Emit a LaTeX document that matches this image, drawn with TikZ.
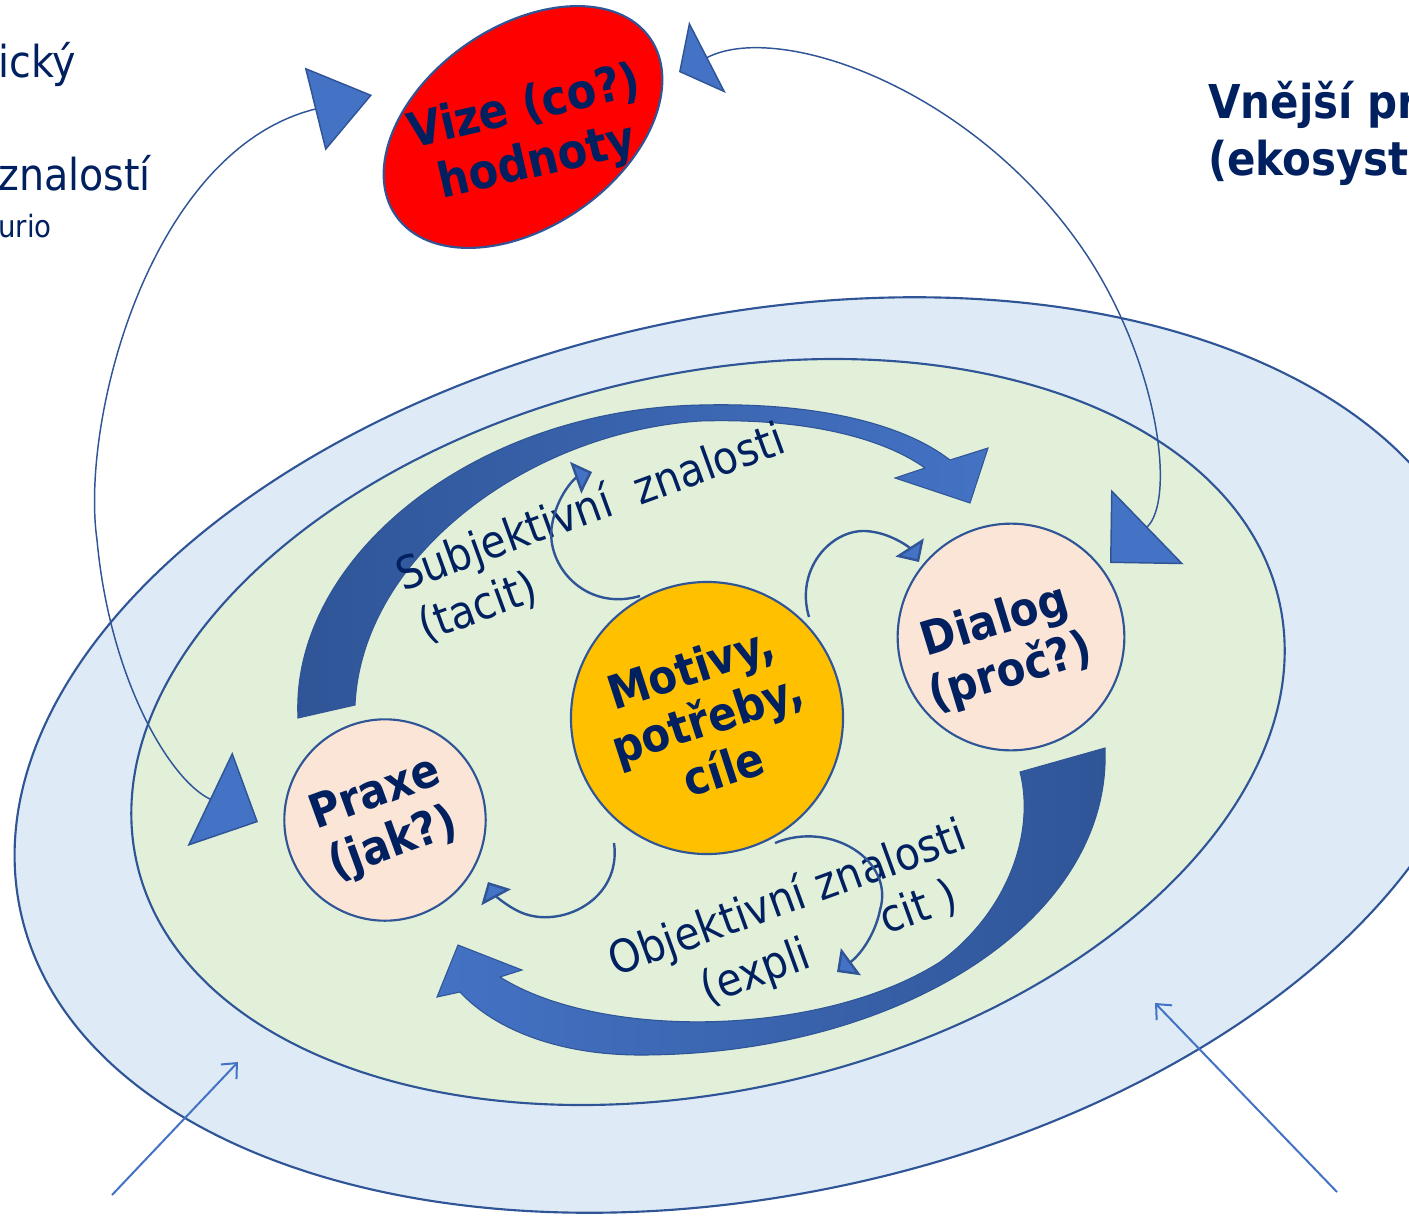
\documentclass[tikz,border=0pt]{standalone}
\usepackage{fontspec}
\setmainfont{DejaVu Sans Condensed}
\usetikzlibrary{arrows.meta}
\definecolor{navy}{HTML}{002060}
\definecolor{edgeblue}{HTML}{2F5597}
\definecolor{midblue}{HTML}{4472C4}
\definecolor{outerfill}{HTML}{DEEBF7}
\definecolor{innerfill}{HTML}{E2F0D9}
\definecolor{peach}{HTML}{FBE5D6}
\definecolor{gold}{HTML}{FFC000}
\definecolor{vizered}{HTML}{FF0000}
\newcommand{\lblfont}{\fontsize{35}{40}\selectfont\bfseries}
\newcommand{\knowfont}{\fontsize{34}{40}\selectfont}

\begin{document}
\begin{tikzpicture}[x=0.75pt,y=0.75pt,yscale=-1,
  ring/.style={draw=edgeblue,line width=1.6pt},
  boldtext/.style={text=navy,font=\lblfont,align=center,inner sep=0pt},
  bubble/.style={circle,ring,fill=peach,boldtext},
  knowtext/.style={text=navy,font=\knowfont,inner sep=0pt,anchor=base west,rotate=20},
  blockarrow/.style={draw=edgeblue,line width=0.8pt},
  smallarc/.style={draw=edgeblue,line width=1.8pt,-{Triangle[length=13pt,width=25pt,fill=midblue]}},
  pointer/.style={draw=midblue,line width=1.5pt,-{Straight Barb[length=9pt,width=16pt]}}]

\useasboundingbox (0,0) rectangle (1409,1221);

\draw[ring,fill=outerfill,rotate around={-12:(752,755)}] (752,755) ellipse [x radius=748,y radius=440];
\draw[ring,fill=innerfill,rotate around={-13:(708,732)}] (708,732) ellipse [x radius=586,y radius=358];

\draw[blockarrow,left color=edgeblue,right color=midblue]
  (298,718) .. controls (290,560) and (470,410) .. (700,405) .. controls (820,402) and (905,425) .. (950,460)
  -- (988,448) -- (970,503) -- (895,478) -- (925,468)
  .. controls (880,436) and (800,418) .. (700,421) .. controls (530,432) and (362,555) .. (355,705) -- cycle;
\draw[blockarrow,left color=midblue,right color=edgeblue]
  (1105,748) .. controls (1112,920) and (900,1055) .. (640,1055) .. controls (560,1055) and (495,1030) .. (460,992)
  -- (437,997) -- (458,945) -- (522,970) -- (500,977)
  .. controls (600,1040) and (820,1038) .. (940,962) .. controls (1010,910) and (1035,830) .. (1020,772) -- cycle;

\draw[ring,fill=vizered,rotate around={-35:(523,127)}] (523,127) ellipse [x radius=155,y radius=100];
\node[boldtext,font=\fontsize{36}{42}\selectfont\bfseries,rotate=13] (vize) at (531,136) {Vize (co?)\\hodnoty};

\node[bubble,minimum size=151pt,rotate=20] (praxe) at (385,820) {Praxe\\(jak?)};
\node[bubble,fill=gold,minimum size=204pt,rotate=18] (motivy) at (707,718) {Motivy,\\potřeby,\\cíle};
\node[bubble,minimum size=170pt,rotate=17] (dialog) at (1011,637) {};
\node[boldtext,rotate=17] (dialogtext) at (1003,648) {Dialog\\(proč?)};

\node[knowtext] (subj) at (403,592) {Subjektivní~~znalosti};
\node[knowtext] (tacit) at (425,642) {(tacit)};
\node[knowtext] (obj) at (615,977) {Objektivní znalosti};
\node[knowtext] (expli) at (707,1005) {(expli};
\node[knowtext] (cit) at (886,935) {cit )};

\coordinate (vizeL) at (372,95);
\coordinate (praxeL) at (258,822);
\coordinate (vizeR) at (679,72);
\coordinate (dialogR) at (1110,563);
\draw[draw=edgeblue,line width=1.1pt,{Triangle[length=44pt,width=64pt,fill=midblue]}-{Triangle[length=40pt,width=78pt,fill=midblue]}]
  (vizeL) .. controls (150,150) and (80,420) .. (97,540) .. controls (110,680) and (170,780) .. (praxeL);
\draw[draw=edgeblue,line width=1.1pt,{Triangle[length=24pt,width=60pt,fill=midblue]}-{Triangle[length=39pt,width=78pt,fill=midblue]}]
  (vizeR) .. controls (780,20) and (980,90) .. (1090,260) .. controls (1160,370) and (1175,500) .. (dialogR);

\coordinate (tacitA) at (640,596);
\coordinate (tacitB) at (592,472);
\coordinate (dialA) at (809,617);
\coordinate (dialB) at (919,562);
\coordinate (explA) at (775,843);
\coordinate (explB) at (837,972);
\coordinate (praxA) at (614,843);
\coordinate (praxB) at (488,882);
\draw[smallarc] (tacitA) .. controls (585,612) and (545,565) .. (552,525) .. controls (557,495) and (575,478) .. (tacitB);
\draw[smallarc] (dialA) .. controls (795,570) and (830,530) .. (865,531) .. controls (890,532) and (910,548) .. (dialB);
\draw[smallarc] (explA) .. controls (830,820) and (895,860) .. (880,910) .. controls (875,935) and (860,955) .. (explB);
\draw[smallarc] (praxA) .. controls (622,900) and (560,930) .. (520,912) .. controls (505,905) and (495,895) .. (praxB);

\coordinate (ptrLa) at (112,1195);
\coordinate (ptrLb) at (238,1062);
\coordinate (ptrRa) at (1337,1192);
\coordinate (ptrRb) at (1155,1003);
\draw[pointer] (ptrLa) -- (ptrLb);
\draw[pointer] (ptrRa) -- (ptrRb);

\node[text=navy,font=\fontsize{33}{38}\selectfont,inner sep=0pt,anchor=base west] (icky) at (-2,77) {ický};
\node[text=navy,font=\fontsize{33}{38}\selectfont,inner sep=0pt,anchor=base west] (znal) at (-2,190) {znalostí};
\node[text=navy,font=\fontsize{23}{27}\selectfont,inner sep=0pt,anchor=base west] (urio) at (-2,237) {urio};
\node[text=navy,font=\fontsize{35}{40}\selectfont\bfseries,inner sep=0pt,anchor=base west] (vnejsi) at (1208,118) {Vnější pr};
\node[text=navy,font=\fontsize{35}{40}\selectfont\bfseries,inner sep=0pt,anchor=base west] (ekosyst) at (1208,175) {(ekosyst};
\end{tikzpicture}
\end{document}
